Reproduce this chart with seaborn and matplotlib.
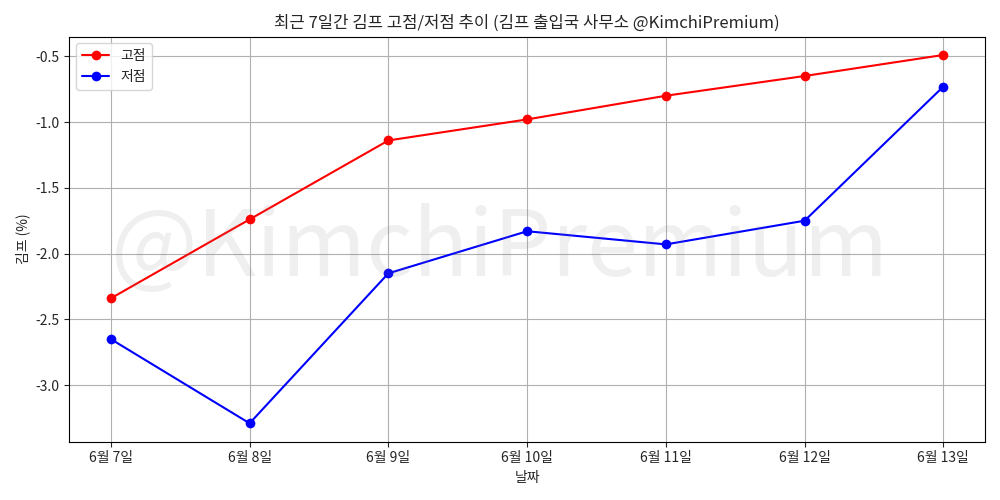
import pandas as pd
import matplotlib
matplotlib.use("Agg")
import matplotlib.pyplot as plt
import seaborn as sns

# 날짜와 고점/저점 값 (%)
dates = ["6월 7일", "6월 8일", "6월 9일", "6월 10일", "6월 11일", "6월 12일", "6월 13일"]
high_vals = [-2.34, -1.74, -1.14, -0.98, -0.80, -0.65, -0.49]
low_vals = [-2.65, -3.29, -2.15, -1.83, -1.93, -1.75, -0.73]

sns.set_style("ticks")
plt.rcParams['font.family'] = ['Noto Sans CJK KR', 'DejaVu Sans']
plt.rcParams['axes.unicode_minus'] = False

df = pd.DataFrame({
    "날짜": dates * 2,
    "김프": high_vals + low_vals,
    "구분": ["고점"] * len(dates) + ["저점"] * len(dates),
})

fig, ax = plt.subplots(figsize=(10, 5), dpi=100)

sns.lineplot(data=df, x="날짜", y="김프", hue="구분", palette={"고점": "red", "저점": "blue"},
             marker="o", markersize=7, markeredgewidth=0, linewidth=1.5, ax=ax, sort=False)

# 워터마크 (레이아웃 계산에서 제외)
wm = fig.text(0.5, 0.5, "@KimchiPremium", fontsize=66,
              color="gray", alpha=0.12, ha="center", va="center", zorder=0)
wm.set_in_layout(False)

ax.set_title("최근 7일간 김프 고점/저점 추이 (김프 출입국 사무소 @KimchiPremium)", fontsize=12)
ax.set_xlabel("날짜")
ax.set_ylabel("김프 (%)")
ax.grid(True, color="#b0b0b0", linewidth=0.8)
ax.legend(loc="upper left", title=None)
for s in ax.spines.values():
    s.set_visible(True)
    s.set_color("black")

plt.tight_layout()
plt.savefig("out.png")
